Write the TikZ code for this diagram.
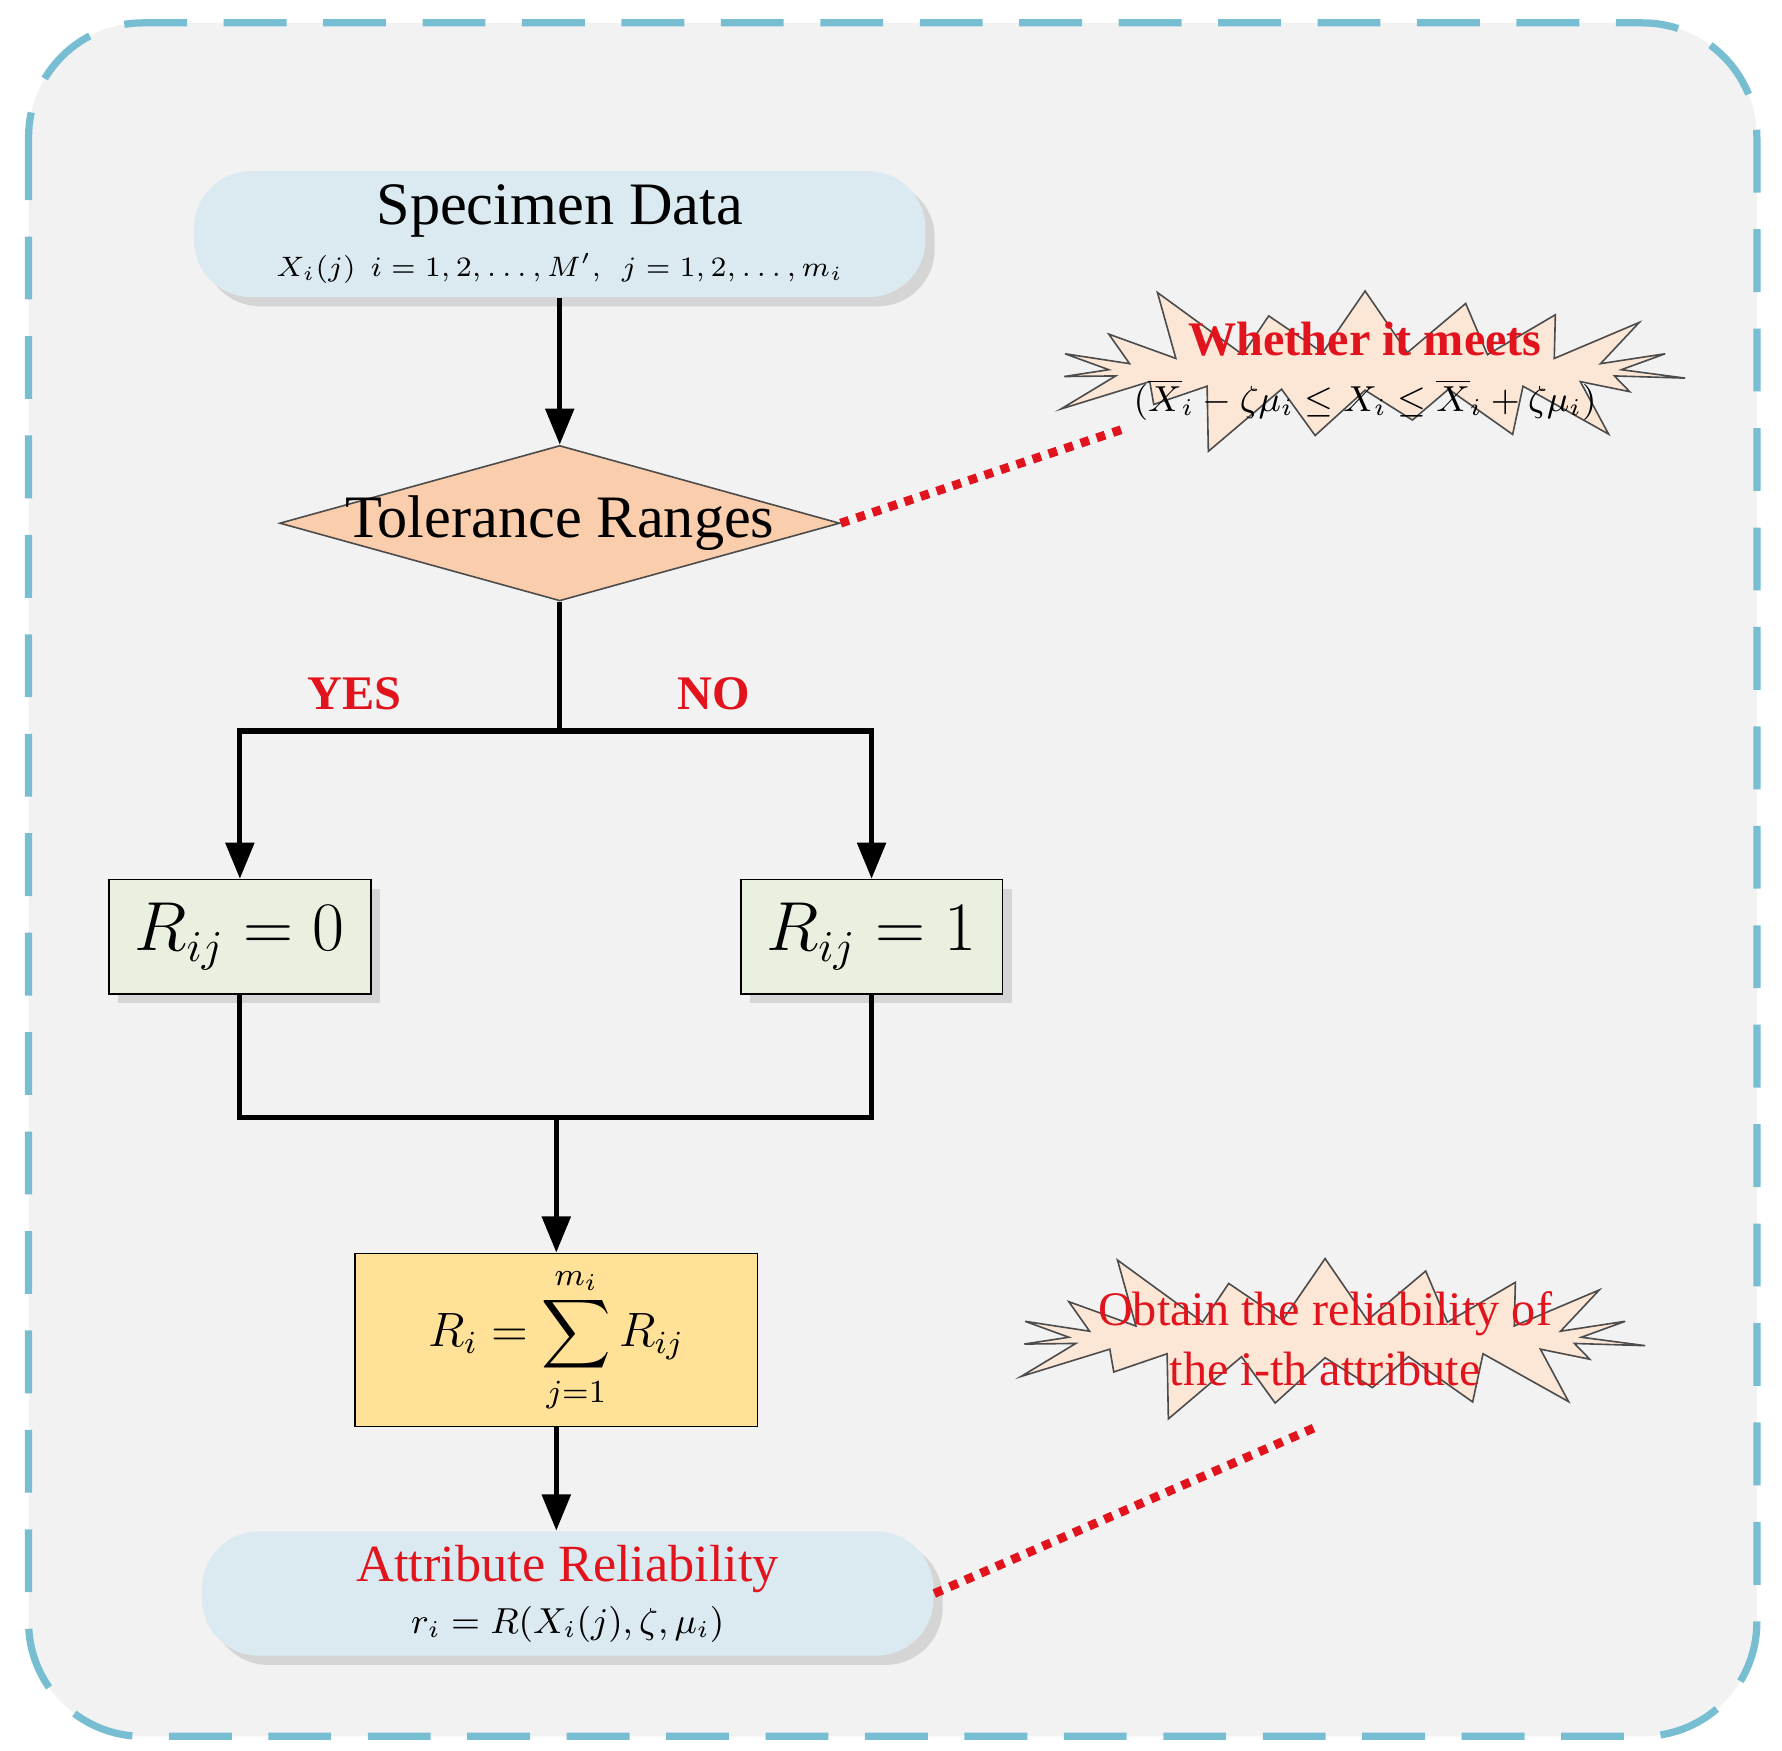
\documentclass[tikz,border=0pt]{standalone}
\usepackage{amsmath, amssymb}
\usepackage{fontspec}
\setmainfont{Liberation Serif}
\usetikzlibrary{shapes.geometric, shapes.symbols, shadows, positioning, arrows.meta}
\definecolor{frameblue}{RGB}{120,190,210}
\definecolor{pillblue}{RGB}{218,234,240}
\definecolor{peach}{RGB}{250,205,172}
\definecolor{boxgreen}{RGB}{234,240,224}
\definecolor{boxgold}{RGB}{255,226,152}
\definecolor{burst}{RGB}{252,230,214}
\definecolor{tred}{RGB}{225,20,30}
\tikzset{
  pill/.style={rounded corners=0.5cm, fill=pillblue, minimum width=6.4cm, minimum height=1cm, align=center, drop shadow={opacity=0.25}},
  rbox/.style={draw, fill=boxgreen, minimum width=2.29cm, minimum height=1cm, font=\fontsize{16}{18}\selectfont, drop shadow={opacity=0.25}},
  star/.style={starburst, starburst points=19, starburst point height=0.75cm, draw=black!70, fill=burst, minimum width=6cm, minimum height=1.8cm},
  flow/.style={-{Triangle[length=9pt,width=7pt]}, line width=1.3pt},
  link/.style={line width=1.3pt},
  note/.style={tred, dotted, line width=2.2pt},
  lab/.style={tred, font=\bfseries\fontsize{12}{14}\selectfont}
}
\begin{document}
\begin{tikzpicture}[x=0.01cm, y=-0.01cm]
\useasboundingbox (0,0) rectangle (1560,1532);
\draw[frameblue, fill=black!5, line width=1.8pt, dash pattern=on 0.55cm off 0.32cm, rounded corners=1cm] (25,20) rectangle (1538,1520);

% main flow
\node[pill] (data) at (490,205) {\fontsize{15}{16}\selectfont Specimen Data\\[1pt] \fontsize{7.5}{9}\selectfont $X_i(j)\ \ i=1,2,\ldots,M',\ \ j=1,2,\ldots,m_i$};
\node[diamond, draw=black!70, fill=peach, minimum width=4.9cm, minimum height=1.36cm, inner sep=0pt] (tol) at (490,458) {};
\node[font=\fontsize{15}{17}\selectfont] (toltext) at (tol.center) {Tolerance Ranges};
\coordinate (split) at (490,640);
\node[rbox] (r0) at (210,820) {$R_{ij}=0$};
\node[rbox] (r1) at (763,820) {$R_{ij}=1$};
\coordinate (join) at (487,978);
\node[draw, fill=boxgold, minimum width=3.52cm, minimum height=1.3cm, font=\fontsize{12}{14}\selectfont] (sum) at (487,1173) {$\displaystyle R_i=\sum_{j=1}^{m_i}R_{ij}$};
\node[pill] (attr) at (497,1395) {\textcolor{tred}{\fontsize{13}{15}\selectfont Attribute Reliability}\\[1pt] \fontsize{9}{10}\selectfont $r_i=R(X_i(j),\zeta,\mu_i)$};

\draw[flow] (data) -- (tol);
\draw[link] (tol.south) -- (split);
\draw[flow] (split) -| (r0.north);
\draw[flow] (split) -| (r1.north);
\draw[link] (r0.south) |- (join);
\draw[link] (r1.south) |- (join);
\draw[flow] (join) -- (sum.north);
\draw[flow] (sum.south) -- (sum.south |- attr.north);
\node[lab] (yes) at (310,607) {YES};
\node[lab] (no) at (625,607) {NO};

% notes
\node[star] (meets) at (1195,325) {};
\node[align=center] (meetstext) at (meets.center) {\textcolor{tred}{\bfseries\fontsize{12}{13}\selectfont Whether it meets}\\[2pt] \fontsize{9}{10}\selectfont $(\overline{X}_i-\zeta\mu_i\le X_i\le\overline{X}_i+\zeta\mu_i)$};
\node[star] (obtain) at (1160,1172) {};
\node[align=center, tred, font=\fontsize{12}{15}\selectfont] (obtaintext) at (obtain.center) {Obtain the reliability of\\ the i-th attribute};
\coordinate (m1) at (985,375);
\coordinate (o1) at (1155,1248);
\draw[note] (tol.east) -- (m1);
\draw[note] (attr.east) -- (o1);
\end{tikzpicture}
\end{document}
